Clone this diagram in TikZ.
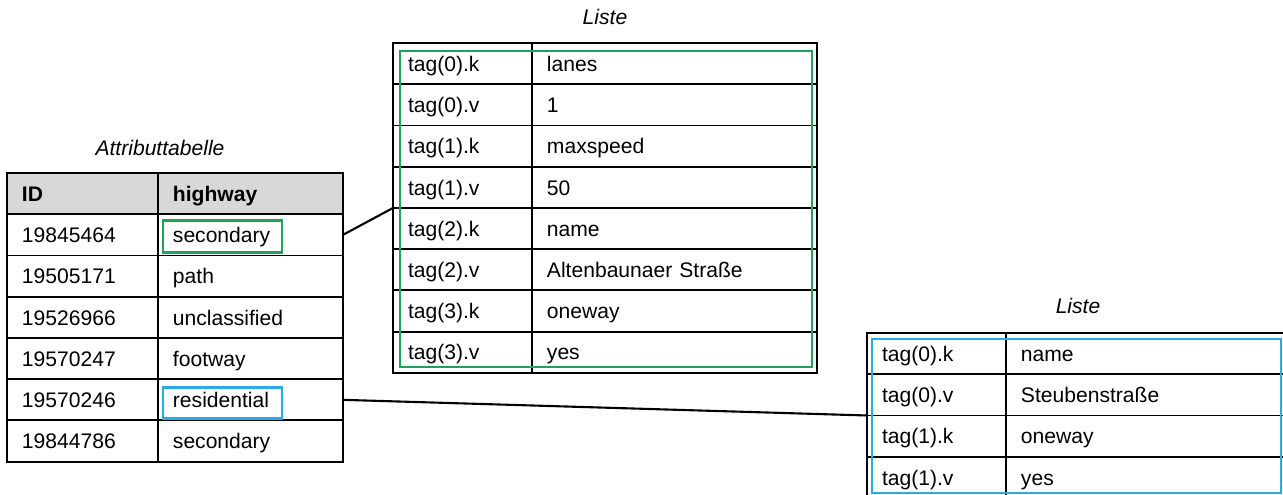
\documentclass[tikz,border=0pt]{standalone}
\usepackage{fontspec}
\setmainfont{Liberation Sans}
\usetikzlibrary{positioning}
\definecolor{markgreen}{HTML}{1FA35B}
\definecolor{markblue}{HTML}{2AABE2}
\definecolor{headgray}{HTML}{D8D8D8}
\tikzset{
  cell/.style={draw, line width=1.1pt, outer sep=0pt, minimum height=0.825cm,
    inner xsep=0.3cm, inner ysep=0pt, align=left,
    text height=1.9ex, text depth=0.25ex,
    font=\fontsize{12}{14}\selectfont},
  idcell/.style={cell, text width=2.42cm},
  hwcell/.style={cell, text width=3.10cm},
  keycell/.style={cell, text width=2.18cm},
  valcell/.style={cell, text width=5.10cm},
  head/.style={fill=headgray, font=\fontsize{12}{14}\selectfont\bfseries},
  caption/.style={font=\fontsize{12}{14}\selectfont\itshape},
  hilite/.style={line width=1.6pt},
  link/.style={line width=1.2pt}
}

\begin{document}
\begin{tikzpicture}[x=0.02cm, y=-0.02cm]
  \useasboundingbox (0,0) rectangle (1283,494);
  \clip (0,0) rectangle (1283,494);

  % attribute table
  \node[caption] (capattr) at (160,148) {Attributtabelle};
  \node[idcell, head, anchor=north west] (id0) at (7,173) {ID};
  \node[hwcell, head, right=0pt of id0] (hw0) {highway};
  \foreach \id/\hw [count=\i, remember=\i as \j (initially 0)] in
    {19845464/secondary, 19505171/path, 19526966/unclassified,
     19570247/footway, 19570246/residential, 19844786/secondary} {
    \node[idcell, below=0pt of id\j] (id\i) {\id};
    \node[hwcell, right=0pt of id\i] (hw\i) {\hw};
  }

  % first list
  \node[caption] (capa) at (605,17) {Liste};
  \node[keycell, anchor=north west] (ka1) at (393,43) {tag(0).k};
  \node[valcell, right=0pt of ka1] (va1) {lanes};
  \foreach \k/\v [count=\i from 2, remember=\i as \j (initially 1)] in
    {tag(0).v/1, tag(1).k/maxspeed, tag(1).v/50, tag(2).k/name,
     tag(2).v/Altenbaunaer Straße, tag(3).k/oneway, tag(3).v/yes} {
    \node[keycell, below=0pt of ka\j] (ka\i) {\k};
    \node[valcell, right=0pt of ka\i] (va\i) {\v};
  }

  % second list
  \node[caption] (capb) at (1078,306) {Liste};
  \node[keycell, anchor=north west] (kb1) at (867,333) {tag(0).k};
  \node[valcell, right=0pt of kb1] (vb1) {name};
  \foreach \k/\v [count=\i from 2, remember=\i as \j (initially 1)] in
    {tag(0).v/Steubenstraße, tag(1).k/oneway, tag(1).v/yes} {
    \node[keycell, below=0pt of kb\j] (kb\i) {\k};
    \node[valcell, right=0pt of kb\i] (vb\i) {\v};
  }

  % highlights
  \draw[markgreen, hilite] ([shift={(5,6)}]hw1.north west)
    rectangle ([shift={(-61,-3)}]hw1.south east);
  \draw[markblue, hilite] ([shift={(5,8)}]hw5.north west)
    rectangle ([shift={(-61,-2)}]hw5.south east);
  \draw[markgreen, hilite] ([shift={(7,8)}]ka1.north west)
    rectangle ([shift={(-5,-6)}]va8.south east);
  \draw[markblue, hilite] ([shift={(5,6)}]kb1.north west)
    rectangle ([shift={(-10,-5)}]vb4.south east);

  % connectors
  \draw[link] (hw1.east) -- (ka5.north west);
  \draw[link] (hw5.east) -- (kb3.north west);
\end{tikzpicture}
\end{document}
